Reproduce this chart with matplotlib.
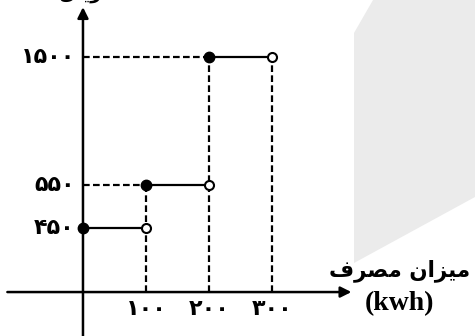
import numpy as np
import matplotlib
matplotlib.use("Agg")
import matplotlib.pyplot as plt
from matplotlib.patches import Polygon

# ---------------------------------------------------------------------------
# Data: step function (price tiers by consumption)
# ---------------------------------------------------------------------------
seg_start = [0, 100, 200]
seg_end = [100, 200, 300]
levels = [450, 550, 1500]

xtick_vals = [100, 200, 300]
xtick_labels = ["۱۰۰", "۲۰۰", "۳۰۰"]
ytick_vals = [450, 550, 1500]
ytick_labels = ["۴۵۰", "۵۵۰", "۱۵۰۰"]

# "میزان مصرف" written in presentation forms, visual order (matplotlib does no shaping)
xlabel_fa = "\uFED1\uFEAE\uFEBC\uFEE3 \uFEE5\uFE8D\uFEB0\uFEF4\uFEE3"
xlabel_unit = "(kwh)"
# y label, mostly cut off at the top edge of the picture
ylabel_fa = "\uFEDE\uFE8E\uFEF3\uFEAE\uFEDF\uFE8D"

# the drawing is schematic: the value axis is not linear
Y_KNOTS = [-1000, 0, 450, 550, 1500, 3000]
Y_POS = [-142.2, 0, 64, 107, 235, 437.1]


def _fwd(v):
    return np.interp(v, Y_KNOTS, Y_POS)


def _inv(p):
    return np.interp(p, Y_POS, Y_KNOTS)


W, H = 475, 336
fig = plt.figure(figsize=(W / 100, H / 100), dpi=100, facecolor="white")

# light grey page shape on the right
pts = [(354, 33), (373, 0), (475, 0), (475, 197), (354, 263)]
fig.patches.append(Polygon([(x / W, 1 - y / H) for x, y in pts], closed=True,
                           transform=fig.transFigure, facecolor="#ebebeb",
                           edgecolor="none", zorder=0))

ax = fig.add_axes([0, 0, 1, 1])
ax.set_facecolor("none")
ax.set_yscale("function", functions=(_fwd, _inv))
ax.set_xlim(-131.7, 622.2)
ax.set_ylim(-309, 1923)
ax.axis("off")

LW_AX = 1.8
LW = 1.6
DASH = (0, (3, 1.5))

# axes with arrow heads
arrow = dict(arrowstyle="-|>", lw=LW_AX, color="black", mutation_scale=16,
             shrinkA=0, shrinkB=0)
ax.annotate("", xy=(0, 1870), xytext=(0, -309), arrowprops=arrow)
ax.annotate("", xy=(426, 0), xytext=(-120, 0), arrowprops=arrow)

# dashed guide lines
for i, (x0, x1, lv) in enumerate(zip(seg_start, seg_end, levels)):
    if x0 > 0:
        ax.plot([0, x0], [lv, lv], color="black", lw=LW, ls=DASH, zorder=2)
    top = max(levels[i:i + 2])
    ax.plot([x1, x1], [0, top], color="black", lw=LW, ls=DASH, zorder=2)

# step segments
for x0, x1, lv in zip(seg_start, seg_end, levels):
    ax.plot([x0, x1], [lv, lv], color="black", lw=LW, zorder=3)
    ax.plot([x0], [lv], marker="o", ms=7.5, color="black", zorder=4)
    ax.plot([x1], [lv], marker="o", ms=6.5, mfc="white", mec="black", mew=1.5,
            zorder=4)

# tick labels (Persian digits)
num_font = dict(family="DejaVu Sans", fontweight="bold", fontsize=16)
for v, lab in zip(ytick_vals, ytick_labels):
    ax.annotate(lab, xy=(0, v), xytext=(-8, 0), textcoords="offset pixels",
                ha="right", va="center", **num_font)
for v, lab in zip(xtick_vals, xtick_labels):
    ax.annotate(lab, xy=(v, 0), xytext=(0, -17), textcoords="offset pixels",
                ha="center", va="center", **num_font)

# axis titles
fig.text(400 / W, 1 - 271 / H, xlabel_fa, ha="center", va="center",
         family="DejaVu Sans", fontweight="bold", fontsize=15.5)
fig.text(400 / W, 1 - 304 / H, xlabel_unit, ha="center", va="center",
         family="Liberation Serif", fontweight="bold", fontsize=20)
fig.text(88 / W, 1 + 1 / H, ylabel_fa, ha="center", va="baseline",
         family="DejaVu Sans", fontweight="bold", fontsize=14)

fig.savefig("out.png", dpi=100, facecolor="white")
